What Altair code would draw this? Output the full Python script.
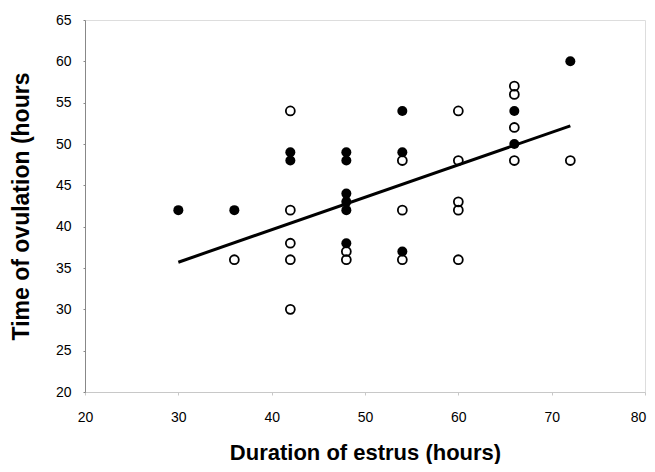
import altair as alt
import pandas as pd

# Filled circles
filled_x = [30, 36, 42, 42, 48, 48, 48, 48, 48, 48, 54, 54, 54, 66, 66, 72]
filled_y = [42, 42, 49, 48, 49, 48, 44, 43, 42, 38, 54, 49, 37, 54, 50, 60]

# Open circles
open_x = [36, 42, 42, 42, 42, 42, 48, 48, 54, 54, 54, 60, 60, 60, 60, 60, 66, 66, 66, 66, 72]
open_y = [36, 54, 42, 38, 36, 30, 37, 36, 48, 42, 36, 54, 48, 43, 42, 36, 57, 56, 52, 48, 48]

# Fitted line end points
fit_x = [30, 72]
fit_y = [35.7, 52.2]

x_ticks = [20, 30, 40, 50, 60, 70, 80]
y_ticks = [20, 25, 30, 35, 40, 45, 50, 55, 60, 65]

df_f = pd.DataFrame({"x": filled_x, "y": filled_y})
df_o = pd.DataFrame({"x": open_x, "y": open_y})
df_l = pd.DataFrame({"x": fit_x, "y": fit_y})

FONT = "Liberation Sans"

xs = alt.Scale(domain=[20, 80], nice=False, zero=False)
ys = alt.Scale(domain=[20, 65], nice=False, zero=False)

xax = alt.Axis(values=x_ticks, title="Duration of estrus (hours)", grid=False, labelFlush=False,
               labelOffset={"condition": {"test": "datum.value == 80", "value": -7}, "value": 0},
               domainColor="#c8c8c8", domainWidth=1, tickColor="#c8c8c8", tickSize=3,
               labelPadding=15, labelFontSize=14, labelColor="black", labelFont=FONT,
               titleFont=FONT, titleFontSize=22, titleFontWeight="bold", titleColor="black",
               titlePadding=18)
yax = alt.Axis(values=y_ticks, title="Time of ovulation (hours", grid=False, labelFlush=False,
               domainColor="#888888", domainWidth=1, tickColor="#888888", tickSize=2,
               labelPadding=12, labelFontSize=14, labelColor="black", labelFont=FONT,
               titleFont=FONT, titleFontSize=23, titleFontWeight="bold", titleColor="black",
               titlePadding=22)

line = alt.Chart(df_l).mark_line(color="black", strokeWidth=3).encode(
    x=alt.X("x:Q", scale=xs, axis=xax),
    y=alt.Y("y:Q", scale=ys, axis=yax),
)

opn = alt.Chart(df_o).mark_point(shape="circle", filled=False, color="black",
                                  strokeWidth=1.8, size=80, opacity=1).encode(
    x=alt.X("x:Q", scale=xs),
    y=alt.Y("y:Q", scale=ys),
)

fil = alt.Chart(df_f).mark_point(shape="circle", filled=True, color="black",
                                  size=100, opacity=1).encode(
    x=alt.X("x:Q", scale=xs),
    y=alt.Y("y:Q", scale=ys),
)

chart = alt.layer(line, opn, fil).properties(
    width=560, height=372,
    autosize=alt.AutoSizeParams(type="none"),
    padding={"left": 77, "top": 12, "right": 2, "bottom": 72},
).configure_view(stroke=None).configure(background="white")

chart.save("out.html", embed_options={"renderer": "svg", "actions": False})
